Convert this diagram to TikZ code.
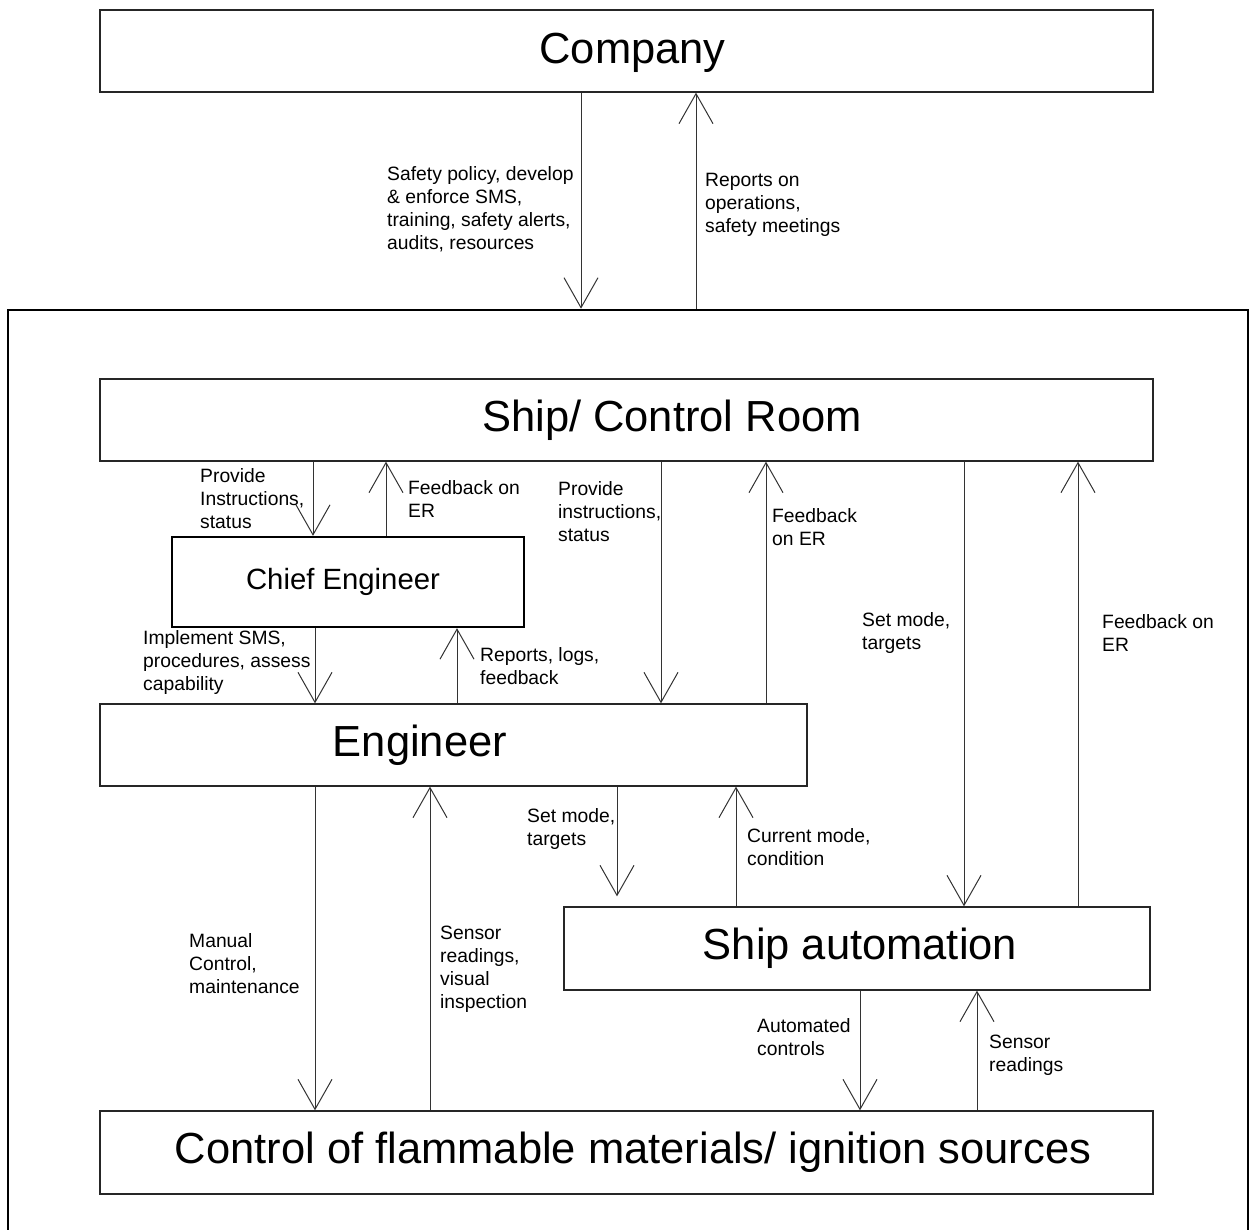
\documentclass[tikz,border=0pt]{standalone}
\usepackage{fontspec}
\setmainfont{Liberation Sans}
\usetikzlibrary{arrows.meta}
\begin{document}
\begin{tikzpicture}[x=1pt,y=-1pt,
  box/.style={draw=black!85, line width=1.3pt, inner sep=0pt},
  title/.style={font=\fontsize{43.5}{50}\selectfont},
  heavybox/.style={draw=black, line width=2.3pt, inner sep=0pt},
  lbl/.style={font=\fontsize{19.3}{23}\selectfont, align=left, anchor=west, inner sep=0pt},
  arr/.style={draw=black!80, line width=1pt, -{Straight Barb[length=30pt,width=34pt]}}]
\useasboundingbox (0,0) rectangle (1251,1230);

% outer frame (its lower edge lies below the page)
\node[heavybox, line width=2.6pt, minimum width=1240pt, minimum height=930pt] (frame) at (628,775) {};

% boxes
\node[box, minimum width=1053pt, minimum height=82pt,
  label={[title, xshift=6pt, yshift=-2pt]center:Company}] (company) at (626.5,51) {};
\node[box, minimum width=1053pt, minimum height=82pt,
  label={[title, xshift=45.5pt]center:Ship/ Control Room}] (ship) at (626.5,420) {};
\node[heavybox, minimum width=352pt, minimum height=90pt,
  label={[font=\fontsize{29.3}{34}\selectfont, xshift=-5pt]center:Chief Engineer}]
  (chief) at (348,582) {};
\node[box, minimum width=707pt, minimum height=82pt,
  label={[title, xshift=-33.5pt]center:Engineer}] (eng) at (453.5,745) {};
\node[box, minimum width=586pt, minimum height=83pt,
  label={[title, xshift=3pt]center:Ship automation}] (auto) at (857,948.5) {};
\node[box, minimum width=1053pt, minimum height=83pt,
  label={[title, xshift=6.5pt]center:Control of flammable materials/ ignition sources}]
  (ctrl) at (626.5,1152.5) {};

% company <-> ship organisation
\draw[arr] (company.south -| 581,0) -- (frame.north -| 581,0);
\draw[arr] (frame.north -| 696,0) -- (company.south -| 696,0);
\node[lbl] (l1) at (387,209.5) {Safety policy, develop\\\& enforce SMS,\\training, safety alerts,\\audits, resources};
\node[lbl] (l2) at (705,205) {Reports on\\operations,\\safety meetings};

% ship/control room <-> chief engineer
\draw[arr] (ship.south -| 313,0) -- (chief.north -| 313,0);
\draw[arr] (chief.north -| 386,0) -- (ship.south -| 386,0);
\node[lbl] (l3) at (200,498.5) {Provide\\Instructions,\\status};
\node[lbl] (l4) at (408,499) {Feedback on\\ER};

% chief engineer <-> engineer
\draw[arr] (chief.south -| 315,0) -- (eng.north -| 315,0);
\draw[arr] (eng.north -| 457,0) -- (chief.south -| 457,0);
\node[lbl] (l5) at (143,663) {Implement SMS,\\procedures, assess\\capability};
\node[lbl] (l6) at (480,666.5) {Reports, logs,\\feedback};

% ship/control room <-> engineer
\draw[arr] (ship.south -| 661,0) -- (eng.north -| 661,0);
\draw[arr] (eng.north -| 766,0) -- (ship.south -| 766,0);
\node[lbl] (l7) at (558,511.5) {Provide\\instructions,\\status};
\node[lbl] (l8) at (772,527.5) {Feedback\\on ER};

% ship/control room <-> ship automation
\draw[arr] (ship.south -| 964,0) -- (auto.north -| 964,0);
\draw[arr] (auto.north -| 1078,0) -- (ship.south -| 1078,0);
\node[lbl] (l9) at (862,633.5) {Set mode,\\targets};
\node[lbl] (l10) at (1102,633) {Feedback on\\ER};

% engineer <-> ship automation
\draw[arr, shorten >=10pt] (eng.south -| 617,0) -- (auto.north -| 617,0);
\draw[arr] (auto.north -| 736,0) -- (eng.south -| 736,0);
\node[lbl] (l11) at (527,829.5) {Set mode,\\targets};
\node[lbl] (l12) at (747,847.5) {Current mode,\\condition};

% engineer <-> controlled process
\draw[arr] (eng.south -| 315,0) -- (ctrl.north -| 315,0);
\draw[arr] (ctrl.north -| 430,0) -- (eng.south -| 430,0);
\node[lbl] (l13) at (189,963.5) {Manual\\Control,\\maintenance};
\node[lbl] (l14) at (440,969.5) {Sensor\\readings,\\visual\\inspection};

% ship automation <-> controlled process
\draw[arr] (auto.south -| 860,0) -- (ctrl.north -| 860,0);
\draw[arr] (ctrl.north -| 977,0) -- (auto.south -| 977,0);
\node[lbl] (l15) at (757,1037.5) {Automated\\controls};
\node[lbl] (l16) at (989,1055.5) {Sensor\\readings};
\end{tikzpicture}
\end{document}
